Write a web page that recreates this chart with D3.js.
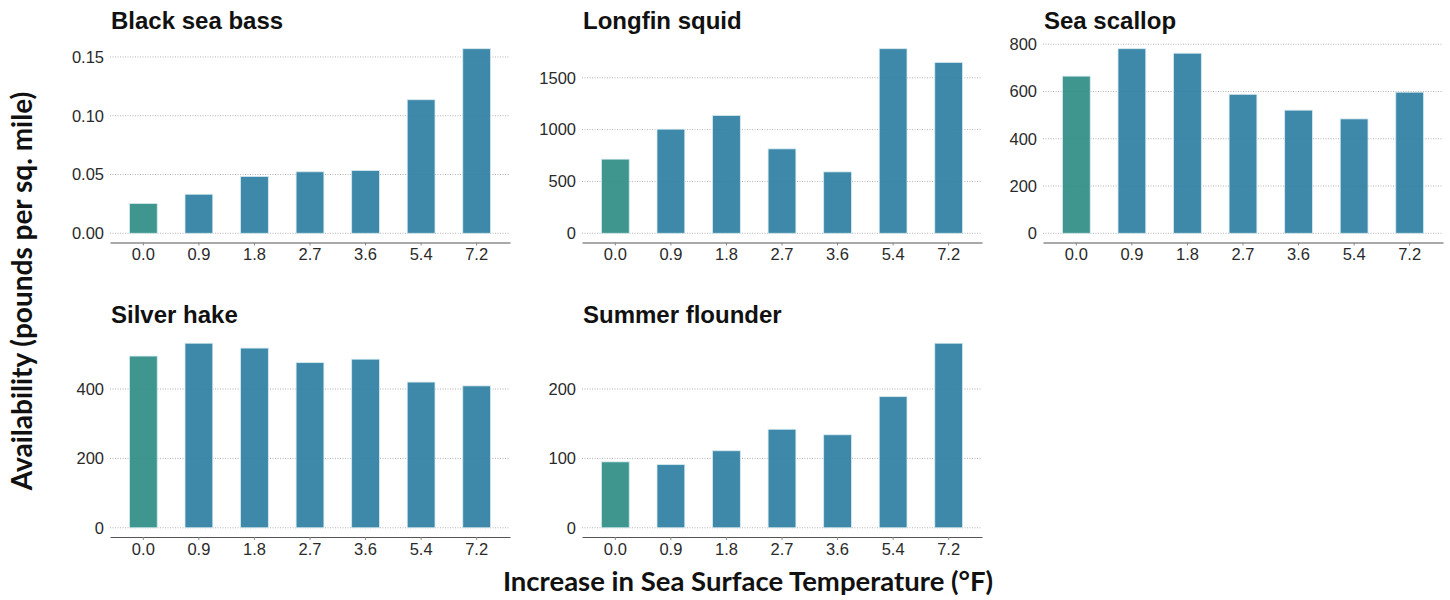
<!DOCTYPE html>
<html>
<head>
<meta charset="utf-8">
<script src="https://cdn.jsdelivr.net/npm/d3@7"></script>
<style>
  body { margin: 0; background: #fff; }
</style>
</head>
<body>
<svg id="chart" width="1450" height="600"></svg>
<script>
// temperature increase categories (°F)
const categories = ['0.0', '0.9', '1.8', '2.7', '3.6', '5.4', '7.2'];

const species = ['Black sea bass', 'Longfin squid', 'Sea scallop', 'Silver hake', 'Summer flounder'];

const blackSeaBass   = [0.0253, 0.0332, 0.0483, 0.0523, 0.0534, 0.1136, 0.157];
const longfinSquid   = [715, 1004, 1136, 814, 592, 1780, 1648];
const seaScallop     = [665, 781, 762, 588, 521, 484, 597];
const silverHake     = [495, 532, 518, 476, 486, 420, 409];
const summerFlounder = [95, 91, 111, 142, 134, 189, 266];

const yTicks = [
  [0, 0.05, 0.10, 0.15],
  [0, 500, 1000, 1500],
  [0, 200, 400, 600, 800],
  [0, 200, 400],
  [0, 100, 200]
];
const yFormats = ['.2f', 'd', 'd', 'd', 'd'];

const seriesList = [blackSeaBass, longfinSquid, seaScallop, silverHake, summerFlounder];

// layout
const panelLefts = [110, 582, 1043];
const panelTops = [39.5, 334];
const panelW = 400, panelH = 203;
const tickFont = '"Liberation Sans", Arial, Helvetica, sans-serif';

const svg = d3.select('#chart');

seriesList.forEach((values, i) => {
  const col = i % 3, row = Math.floor(i / 3);
  const g = svg.append('g')
    .attr('transform', `translate(${panelLefts[col]},${panelTops[row]})`);

  const maxV = d3.max(values);
  const y = d3.scaleLinear()
    .domain([-0.05 * maxV, 1.05 * maxV])
    .range([panelH, 0]);
  const x = d3.scaleBand()
    .domain(categories)
    .range([0, panelW])
    .paddingInner(0.5)
    .paddingOuter(0.35);

  // dotted gridlines
  g.selectAll('.grid')
    .data(yTicks[i])
    .enter().append('line')
    .attr('x1', 0).attr('x2', panelW)
    .attr('y1', d => y(d)).attr('y2', d => y(d))
    .attr('stroke', '#b5b5b5')
    .attr('stroke-width', 1)
    .attr('stroke-dasharray', '1,1.5');

  // bars
  g.selectAll('.bar')
    .data(values)
    .enter().append('rect')
    .attr('x', (d, j) => x(categories[j]))
    .attr('width', x.bandwidth())
    .attr('y', d => y(d))
    .attr('height', d => y(0) - y(d))
    .attr('fill', (d, j) => j === 0 ? '#2f8d86' : '#2e7ea2')
    .attr('fill-opacity', 0.92)
    .attr('stroke', '#d6eaf0')
    .attr('stroke-width', 0.8);

  // y axis (labels only)
  const yAxis = g.append('g')
    .call(d3.axisLeft(y).tickValues(yTicks[i]).tickFormat(d3.format(yFormats[i])).tickSize(0).tickPadding(6));
  yAxis.select('.domain').remove();
  yAxis.selectAll('text')
    .style('font-family', tickFont).style('font-size', '16.5px').attr('fill', '#2a2a2a');

  // x axis
  const xAxis = g.append('g')
    .attr('transform', `translate(0,${panelH})`)
    .call(d3.axisBottom(x).tickSize(3).tickPadding(3).tickSizeOuter(0));
  xAxis.select('.domain').attr('stroke', '#555').attr('stroke-width', 1.2);
  xAxis.selectAll('.tick line').attr('stroke', '#888');
  xAxis.selectAll('text')
    .style('font-family', tickFont).style('font-size', '16.5px').attr('fill', '#2a2a2a');

  // panel title
  g.append('text')
    .attr('x', 1)
    .attr('y', row === 0 ? -10.5 : -10.7)
    .style('font-family', tickFont)
    .style('font-weight', 'bold')
    .style('font-size', '24px')
    .attr('fill', '#111')
    .text(species[i]);
});

// shared axis titles
svg.append('text')
  .attr('transform', 'translate(32,291) rotate(-90)')
  .attr('text-anchor', 'middle')
  .style('font-family', 'Lato, "Open Sans", sans-serif')
  .style('font-weight', 'bold')
  .style('font-size', '28px')
  .attr('fill', '#111')
  .text('Availability (pounds per sq. mile)');

svg.append('text')
  .attr('x', 748)
  .attr('y', 591)
  .attr('text-anchor', 'middle')
  .style('font-family', 'Lato, "Open Sans", sans-serif')
  .style('font-weight', 'bold')
  .style('font-size', '27.5px')
  .attr('fill', '#111')
  .text('Increase in Sea Surface Temperature (°F)');
</script>
</body>
</html>
